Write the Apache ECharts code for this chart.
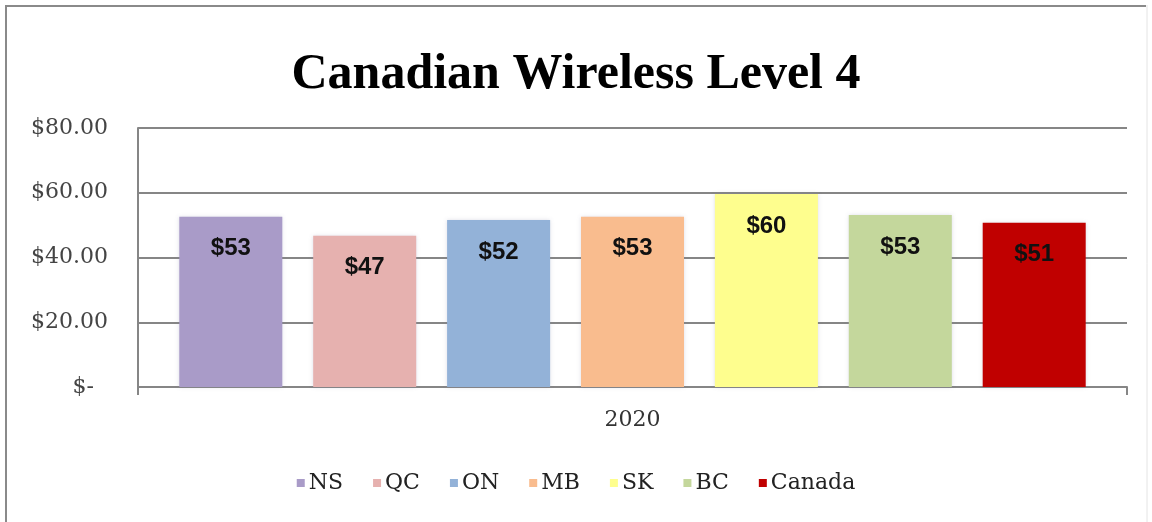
<!DOCTYPE html>
<html>
<head>
<meta charset="utf-8">
<script src="https://cdn.jsdelivr.net/npm/echarts@6/dist/echarts.min.js"></script>
<style>
  html, body { margin: 0; padding: 0; background: #fff; }
  #chart { width: 1152px; height: 522px; }
</style>
</head>
<body>
<div id="chart"></div>
<script>
const categories = ["2020"];
const regions = ["NS", "QC", "ON", "MB", "SK", "BC", "Canada"];
const values = [52.6, 46.7, 51.6, 52.6, 59.6, 53.1, 50.7];
const colors = ["#A99BC8", "#E6B1AF", "#93B2D8", "#F9BC8E", "#FEFE8E", "#C4D79C", "#C00000"];
const yTicks = [0, 20, 40, 60, 80];

const myChart = echarts.init(document.getElementById("chart"));

const series = regions.map(function (name, i) {
  return {
    name: name,
    type: "bar",
    data: [values[i]],
    barWidth: 103,
    barGap: "30%",
    itemStyle: {
      color: colors[i],
      shadowColor: "rgba(120,120,160,0.25)",
      shadowBlur: 4
    },
    label: {
      show: true,
      position: "insideTop",
      distance: 20,
      formatter: function (p) { return "$" + Math.round(p.value); },
      fontFamily: "Liberation Sans, Arial",
      fontWeight: "bold",
      fontSize: 24,
      color: "#111"
    }
  };
});

const option = {
  animation: false,
  backgroundColor: "#fff",
  title: {
    text: "Canadian Wireless Level 4",
    left: "center",
    top: 45,
    textStyle: {
      fontFamily: "Liberation Serif, serif",
      fontWeight: "bold",
      fontSize: 50,
      color: "#000"
    }
  },
  graphic: [
    { type: "line", shape: { x1: 5, y1: 6, x2: 1146, y2: 6 }, style: { stroke: "#8a8a8a", lineWidth: 2 } },
    { type: "line", shape: { x1: 6, y1: 5, x2: 6, y2: 522 }, style: { stroke: "#8a8a8a", lineWidth: 2 } },
    { type: "line", shape: { x1: 1147, y1: 5, x2: 1147, y2: 522 }, style: { stroke: "#e4e4e4", lineWidth: 1 } }
  ],
  legend: {
    data: regions,
    bottom: 23,
    left: "center",
    itemWidth: 8,
    itemHeight: 8,
    itemGap: 30,
    icon: "rect",
    textStyle: {
      fontFamily: "DejaVu Serif, serif",
      fontSize: 22,
      color: "#222",
      padding: [0, 0, 0, -1]
    }
  },
  grid: {
    left: 138,
    right: 25,
    top: 128,
    bottom: 135
  },
  xAxis: {
    type: "category",
    data: categories,
    axisLine: { lineStyle: { color: "#868686", width: 2 } },
    axisTick: { show: true, alignWithLabel: false, length: 8, lineStyle: { color: "#868686", width: 2 } },
    axisLabel: {
      fontFamily: "DejaVu Serif, serif",
      fontSize: 22,
      color: "#333",
      margin: 22
    }
  },
  yAxis: {
    type: "value",
    min: yTicks[0],
    max: yTicks[yTicks.length - 1],
    interval: 20,
    axisLine: { show: true, lineStyle: { color: "#868686", width: 2 } },
    axisTick: { show: false },
    splitLine: { lineStyle: { color: "#868686", width: 2 } },
    axisLabel: {
      margin: 30,
      fontFamily: "DejaVu Serif, serif",
      fontSize: 22,
      color: "#444",
      formatter: function (v) { return v === 0 ? "$-  " : "$" + v.toFixed(2); }
    }
  },
  series: series
};

myChart.setOption(option);
window.addEventListener("resize", () => myChart.resize(), false);
</script>
</body>
</html>
